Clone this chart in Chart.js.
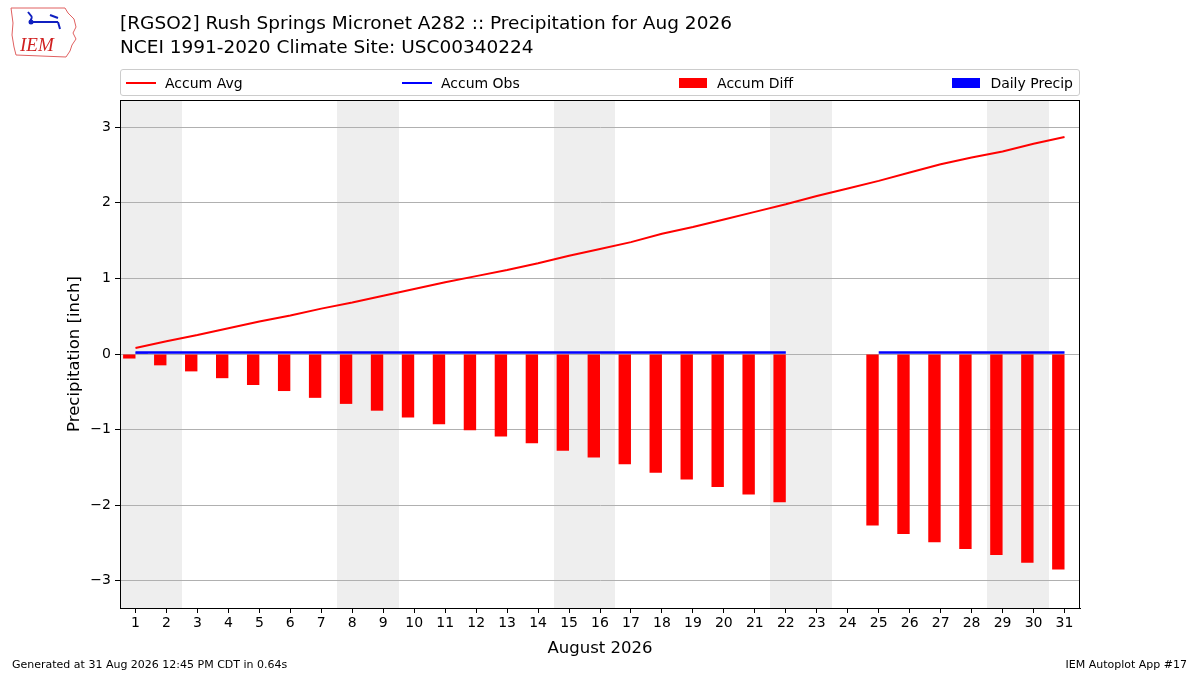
<!DOCTYPE html>
<html>
<head>
<meta charset="utf-8">
<script src="https://cdn.jsdelivr.net/npm/chart.js@4/dist/chart.umd.min.js"></script>
<style>
  body { margin: 0; background: #fff; font-family: "DejaVu Sans", sans-serif; }
  #wrap { position: relative; width: 1200px; height: 675px; overflow: hidden; }
  #chart { position: absolute; left: 0; top: 0; }
  .title { position: absolute; left: 120px; font-size: 18.5px; color: #000; white-space: nowrap; }
  #legend { position: absolute; left: 120px; top: 69px;
            border: 1px solid #cccccc; border-radius: 3px; display: flex;
            justify-content: space-between; align-items: center; padding: 0 6px 0 5px;
            box-sizing: border-box; width: 960px; height: 27px; font-size: 14px; }
  .item { display: flex; align-items: center; white-space: nowrap; }
  .line { width: 30px; height: 2px; margin-right: 9px; }
  .patch { width: 28px; height: 10px; margin-right: 10px; }
  .foot { position: absolute; top: 658px; font-size: 11px; white-space: nowrap; }
</style>
</head>
<body>
<div id="wrap">
  <canvas id="chart" width="1200" height="675"></canvas>
  <svg style="position:absolute;left:8px;top:5px" width="72" height="54" viewBox="0 0 72 54">
    <path d="M3 3 L57 3 L60 8 L66 14 L68 22 L65 28 L68 34 L64 40 L62 46 L58 52 L8 50 L6 42 L4 30 L5 18 Z"
          fill="none" stroke="#e06060" stroke-width="1"/>
    <path d="M20 7 L24 12 M24 12 L22 17 M22 17 L50 17 M42 10 L50 13 M50 17 L52 24" stroke="#1020c0" stroke-width="2" fill="none"/>
    <circle cx="23" cy="17" r="2.5" fill="#1020c0"/>
    <text x="12" y="46" font-family="Liberation Serif, serif" font-style="italic" font-size="19" fill="#d02020">IEM</text>
  </svg>
  <div class="title" style="top:12px">[RGSO2] Rush Springs Micronet A282 :: Precipitation for Aug 2026</div>
  <div class="title" style="top:36px">NCEI 1991-2020 Climate Site: USC00340224</div>
  <div id="legend">
    <div class="item"><span class="line" style="background:#ff0000"></span>Accum Avg</div>
    <div class="item"><span class="line" style="background:#0000ff"></span>Accum Obs</div>
    <div class="item"><span class="patch" style="background:#ff0000"></span>Accum Diff</div>
    <div class="item"><span class="patch" style="background:#0000ff"></span>Daily Precip</div>
  </div>
  <div class="foot" style="left:12px">Generated at 31 Aug 2026 12:45 PM CDT in 0.64s</div>
  <div class="foot" style="right:13px">IEM Autoplot App #17</div>
</div>
<script>
const days = ['1','2','3','4','5','6','7','8','9','10','11','12','13','14','15','16',
              '17','18','19','20','21','22','23','24','25','26','27','28','29','30','31'];
const weekendDays = ['1','2','8','9','15','16','22','23','29','30'];

const accumAvg = [0.08, 0.17, 0.25, 0.34, 0.43, 0.51, 0.60, 0.68, 0.77, 0.86, 0.95, 1.03, 1.11, 1.20, 1.30, 1.39,
                  1.48, 1.59, 1.68, 1.78, 1.88, 1.98, 2.09, 2.19, 2.29, 2.40, 2.51, 2.60, 2.68, 2.78, 2.87];
const accumObs = [0.02, 0.02, 0.02, 0.02, 0.02, 0.02, 0.02, 0.02, 0.02, 0.02, 0.02, 0.02, 0.02, 0.02, 0.02, 0.02,
                  0.02, 0.02, 0.02, 0.02, 0.02, 0.02, null, null, 0.02, 0.02, 0.02, 0.02, 0.02, 0.02, 0.02];
const accumDiff = [-0.06, -0.15, -0.23, -0.32, -0.41, -0.49, -0.58, -0.66, -0.75, -0.84, -0.93, -1.01, -1.09, -1.18, -1.28, -1.37,
                   -1.46, -1.57, -1.66, -1.76, -1.86, -1.96, null, null, -2.27, -2.38, -2.49, -2.58, -2.66, -2.76, -2.85];
const dailyPrecip = [0.02, 0, 0, 0, 0, 0, 0, 0, 0, 0, 0, 0, 0, 0, 0, 0,
                     0, 0, 0, 0, 0, 0, null, null, 0, 0, 0, 0, 0, 0, 0];
const yTicks = [-3, -2, -1, 0, 1, 2, 3];

const font = "DejaVu Sans";

// grey bands behind weekends, under the grid; neighbouring days merged into one band
const weekendPlugin = {
    id: 'weekends',
    beforeDraw: (chart) => {
        const x = chart.scales.x;
        const area = chart.chartArea;
        const half = (x.getPixelForValue(1) - x.getPixelForValue(0)) / 2;
        const idx = weekendDays.map(d => days.indexOf(d));
        const spans = [];
        idx.forEach(i => {
            const last = spans[spans.length - 1];
            if (last && last[1] === i - 1) last[1] = i;
            else spans.push([i, i]);
        });
        const ctx = chart.ctx;
        ctx.save();
        ctx.fillStyle = '#eeeeee';
        spans.forEach(([a, b]) => {
            const x0 = Math.round(x.getPixelForValue(a) - half);
            const x1 = Math.round(x.getPixelForValue(b) + half);
            ctx.fillRect(x0, area.top, x1 - x0, area.bottom - area.top);
        });
        ctx.restore();
    }
};

// black frame around the axes box
const framePlugin = {
    id: 'frame',
    afterDraw: (chart) => {
        const a = chart.chartArea;
        const ctx = chart.ctx;
        ctx.save();
        ctx.strokeStyle = '#000';
        ctx.lineWidth = 1;
        ctx.strokeRect(Math.round(a.left) + 0.5, Math.round(a.top) + 0.5,
                       Math.round(a.right - a.left) - 1, Math.round(a.bottom - a.top));
        ctx.restore();
    }
};

const chartConfig = {
    data: {
        labels: days,
        datasets: [
            {type: 'line', label: 'Accum Avg', data: accumAvg, borderColor: '#ff0000',
             borderWidth: 2, pointRadius: 0, tension: 0},
            {type: 'line', label: 'Accum Obs', data: accumObs, borderColor: '#0000ff',
             borderWidth: 2.5, pointRadius: 0, tension: 0, spanGaps: false},
            {type: 'bar', label: 'Accum Diff', data: accumDiff, backgroundColor: '#ff0000',
             categoryPercentage: 0.8, barPercentage: 1.0},
            {type: 'bar', label: 'Daily Precip', data: dailyPrecip, backgroundColor: '#0000ff',
             categoryPercentage: 0.8, barPercentage: 1.0}
        ]
    },
    options: {
        responsive: false,
        animation: false,
        devicePixelRatio: 1,
        layout: {padding: {top: 100, right: 120, left: 65, bottom: 16}},
        plugins: {
            legend: {display: false},
            title: {display: false},
            tooltip: {enabled: false}
        },
        scales: {
            x: {
                type: 'category',
                offset: true,
                afterFit: (s) => { s.height = 51; },
                grid: {offset: false, drawOnChartArea: false, tickColor: '#000', tickLength: 5},
                border: {display: true, color: '#000'},
                ticks: {color: '#000', font: {family: font, size: 14}, padding: 2, maxRotation: 0, autoSkip: false},
                title: {display: true, text: 'August 2026', color: '#000',
                        font: {family: font, size: 16.5}, padding: {top: 2, bottom: 0}}
            },
            y: {
                min: -3.36,
                max: 3.36,
                afterFit: (s) => { s.width = 55; },
                afterBuildTicks: (s) => { s.ticks = yTicks.map(v => ({value: v})); },
                grid: {color: '#b0b0b0', lineWidth: 1, tickColor: '#000', tickLength: 5},
                border: {display: true, color: '#000'},
                ticks: {color: '#000', font: {family: font, size: 14}, padding: 4,
                        callback: (v) => (v < 0 ? '\u2212' + Math.abs(v) : String(v))},
                title: {display: true, text: 'Precipitation [inch]', color: '#000',
                        font: {family: font, size: 16.5}, padding: {top: 0, bottom: 0}}
            }
        }
    },
    plugins: [weekendPlugin, framePlugin]
};

new Chart(document.getElementById('chart'), chartConfig);
</script>
</body>
</html>
